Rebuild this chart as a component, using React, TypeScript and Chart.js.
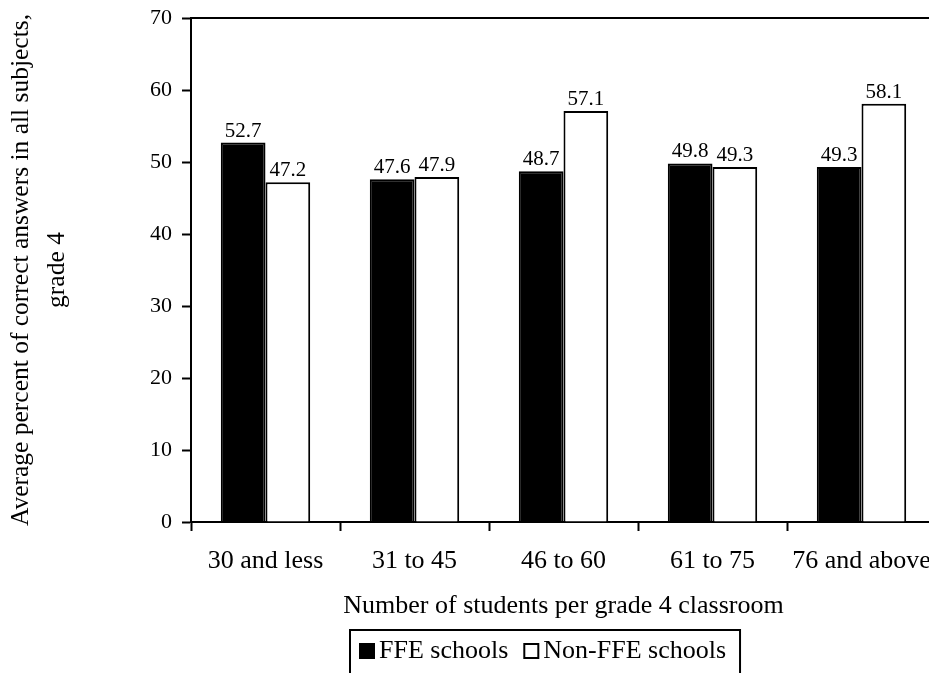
import { useEffect, useRef } from 'react';
import { Chart, registerables } from 'chart.js';

Chart.register(...registerables);

// Class-size groups and the average percent of correct answers per group
const categories = ['30 and less', '31 to 45', '46 to 60', '61 to 75', '76 and above'];
const ffeValues = [52.7, 47.6, 48.7, 49.8, 49.3];
const nonFfeValues = [47.2, 47.9, 57.1, 49.3, 58.1];
const seriesLabels = ['FFE schools', 'Non-FFE schools'];
const yAxisTitle = ['Average percent of correct answers in all subjects,', 'grade 4'];
const xAxisTitle = 'Number of students per grade 4 classroom';
const yMin = 0;
const yMax = 70;
const yStep = 10;

const SERIF = '"Liberation Serif", "Times New Roman", Times, serif';
const INK = '#000000';

// Closed line along the top and right of the plotting area
const framePlugin = {
  id: 'frame',
  afterDraw(chart: any) {
    const { ctx, chartArea } = chart;
    ctx.save();
    ctx.strokeStyle = INK;
    ctx.lineWidth = 2;
    ctx.beginPath();
    ctx.moveTo(chartArea.left, chartArea.top);
    ctx.lineTo(chartArea.right, chartArea.top);
    ctx.lineTo(chartArea.right, chartArea.bottom);
    ctx.stroke();
    ctx.restore();
  },
};

// Value printed above every bar
const valueLabelPlugin = {
  id: 'valueLabels',
  afterDatasetsDraw(chart: any) {
    const { ctx } = chart;
    ctx.save();
    ctx.font = `21px ${SERIF}`;
    ctx.fillStyle = INK;
    ctx.textAlign = 'center';
    ctx.textBaseline = 'alphabetic';
    chart.data.datasets.forEach((ds: any, di: number) => {
      const meta = chart.getDatasetMeta(di);
      meta.data.forEach((bar: any, i: number) => {
        const v = ds.data[i] as number;
        ctx.fillText(v.toFixed(1), bar.x, bar.y - 6);
      });
    });
    ctx.restore();
  },
};

// Boxed legend under the axis title
const boxedLegendPlugin = {
  id: 'boxedLegend',
  afterDraw(chart: any) {
    const { ctx } = chart;
    const centerX = 545;
    const top = 630;
    const square = 16;
    const textGap = 4;
    const itemGap = 15;
    const padLeft = 9;
    const padRight = 14;
    ctx.save();
    ctx.font = `26px ${SERIF}`;
    const items = chart.data.datasets.map((ds: any) => ({
      label: ds.label as string,
      fill: ds.backgroundColor as string,
      width: ctx.measureText(ds.label).width,
    }));
    const content = items.reduce((s: number, it: any) => s + square + textGap + it.width, 0) + itemGap * (items.length - 1);
    const total = padLeft + content + padRight;
    const left = Math.round(centerX - total / 2);
    ctx.strokeStyle = INK;
    ctx.lineWidth = 2;
    ctx.strokeRect(left, top, total, 120);
    let x = left + padLeft;
    const midY = top + 21;
    items.forEach((it: any) => {
      ctx.fillStyle = it.fill;
      ctx.fillRect(x, midY - square / 2, square, square);
      ctx.strokeStyle = INK;
      ctx.lineWidth = 2;
      ctx.strokeRect(x + 1, midY - square / 2 + 1, square - 2, square - 2);
      x += square + textGap;
      ctx.fillStyle = INK;
      ctx.textAlign = 'left';
      ctx.textBaseline = 'middle';
      ctx.fillText(it.label, x, midY);
      x += it.width + itemGap;
    });
    ctx.restore();
  },
};

export default function App() {
  const canvasRef = useRef<HTMLCanvasElement | null>(null);

  useEffect(() => {
    const canvas = canvasRef.current;
    if (!canvas) return;
    const chart = new Chart(canvas, {
      type: 'bar',
      data: {
        labels: categories,
        datasets: [
          {
            label: seriesLabels[0],
            data: ffeValues,
            backgroundColor: '#000000',
            borderColor: INK,
            borderWidth: 2,
            barPercentage: 1,
            categoryPercentage: 0.6,
          },
          {
            label: seriesLabels[1],
            data: nonFfeValues,
            backgroundColor: '#ffffff',
            borderColor: INK,
            borderWidth: 2,
            barPercentage: 1,
            categoryPercentage: 0.6,
          },
        ],
      },
      options: {
        responsive: false,
        animation: false,
        devicePixelRatio: 1,
        layout: { autoPadding: false, padding: { left: 0, top: 18, right: 14, bottom: 75 } },
        plugins: {
          legend: { display: false },
          tooltip: { enabled: false },
          title: { display: false },
        },
        scales: {
          x: {
            offset: true,
            afterFit(scale: any) {
              scale.height = 103;
            },
            grid: {
              display: true,
              offset: true,
              drawOnChartArea: false,
              drawTicks: true,
              tickLength: 9,
              tickColor: INK,
              tickWidth: 2,
              color: INK,
            },
            border: { display: true, color: INK, width: 2 },
            ticks: {
              color: INK,
              font: { family: SERIF, size: 26 },
              padding: 15,
              autoSkip: false,
              maxRotation: 0,
              minRotation: 0,
            },
            title: {
              display: true,
              text: xAxisTitle,
              color: INK,
              font: { family: SERIF, size: 26 },
              padding: { top: 0, bottom: 3 },
            },
          },
          y: {
            min: yMin,
            max: yMax,
            afterFit(scale: any) {
              scale.width = 191;
            },
            grid: {
              display: true,
              drawOnChartArea: false,
              drawTicks: true,
              tickLength: 9,
              tickColor: INK,
              tickWidth: 2,
              color: INK,
            },
            border: { display: true, color: INK, width: 2 },
            ticks: {
              stepSize: yStep,
              color: INK,
              font: { family: SERIF, size: 22, lineHeight: 0.5 },
              padding: 10,
            },
            title: {
              display: true,
              text: yAxisTitle,
              color: INK,
              font: { family: SERIF, size: 25.5, lineHeight: 1.42 },
              padding: { top: 3, bottom: 0 },
            },
          },
        },
      },
      plugins: [framePlugin, valueLabelPlugin, boxedLegendPlugin],
    });
    return () => chart.destroy();
  }, []);

  return (
    <div
      style={{
        position: 'absolute',
        left: 0,
        top: 0,
        width: 929,
        height: 673,
        overflow: 'hidden',
        background: '#ffffff',
      }}
    >
      <canvas ref={canvasRef} width={950} height={700} style={{ display: 'block' }} />
    </div>
  );
}
